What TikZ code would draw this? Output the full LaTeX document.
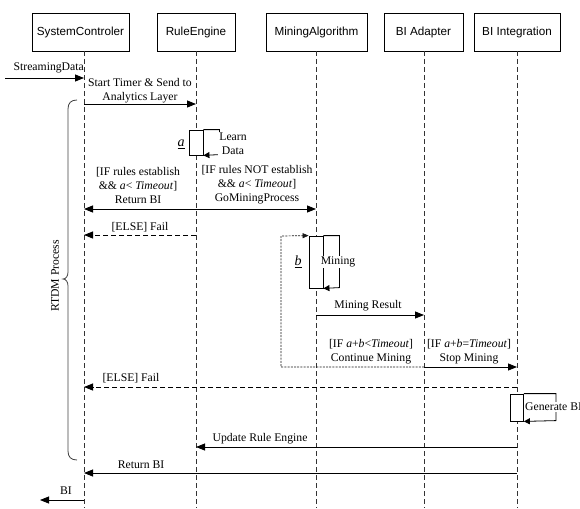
\documentclass[tikz,border=0pt]{standalone}
\usepackage{fontspec}
\setmainfont{Liberation Serif}
\setsansfont{Liberation Sans}
\usetikzlibrary{arrows.meta}
\begin{document}
\begin{tikzpicture}[x=1pt,y=-1pt,
  every node/.style={inner sep=0pt, font=\fontsize{11.7}{14}\selectfont},
  hdr/.style={draw, line width=0.8pt, minimum height=38pt, font=\sffamily\fontsize{11.7}{14}\selectfont},
  life/.style={dash pattern=on 5pt off 3pt, line width=0.8pt, draw=black!80},
  msg/.style={line width=0.8pt, -{Triangle[length=9pt,width=7pt]}},
  dmsg/.style={msg, dash pattern=on 5pt off 3pt},
  lbl/.style={align=center},
  act/.style={draw, fill=white, line width=0.8pt},
  selfarr/.style={line width=0.8pt, -{Triangle[length=6pt,width=6pt]}},
  loopd/.style={line width=0.7pt, dash pattern=on 2pt off 1.2pt, draw=black!90, -{Triangle[length=6pt,width=5pt]}},
  tag/.style={font=\fontsize{14}{16}\selectfont},
  wlbl/.style={fill=white, inner sep=1pt, align=center}
]
\useasboundingbox (0,0) rectangle (580,508);

% headers
\node[hdr, minimum width=97pt] (sc) at (80.5,32) {SystemControler};
\node[hdr, minimum width=78pt] (re) at (196,32) {RuleEngine};
\node[hdr, minimum width=101pt] (ma) at (316.5,32) {MiningAlgorithm};
\node[hdr, minimum width=79pt] (ba) at (423.5,32) {BI Adapter};
\node[hdr, minimum width=86pt] (bi) at (517,32) {BI Integration};

% lifelines
\coordinate (scT) at (84,51);   \coordinate (scB) at (84,508);
\coordinate (reT) at (196,51);  \coordinate (reB) at (196,508);
\coordinate (maT) at (316,51);  \coordinate (maB) at (316,508);
\coordinate (baT) at (424,51);  \coordinate (baB) at (424,508);
\coordinate (biT) at (517,51);  \coordinate (biB) at (517,508);
\draw[life] (scT) -- (scB);
\draw[life] (reT) -- (reB);
\draw[life] (maT) -- (maB);
\draw[life] (baT) -- (baB);
\draw[life] (biT) -- (biB);

% brace
\draw[line width=0.8pt, draw=black!75] (77,100) .. controls (71,100) and (68,103) .. (68,109) -- (68,272)
  .. controls (68,276) and (66,279) .. (63,279) .. controls (66,279) and (68,282) .. (68,286)
  -- (68,451) .. controls (68,457) and (71,460) .. (77,460);
\node[rotate=90] (rtdm) at (55,276) {RTDM Process};

% streaming data
\coordinate (sd0) at (5,78); \coordinate (sd1) at (84,78);
\draw[msg] (sd0) -- (sd1);
\node[anchor=base east] (sdl) at (84,71) {StreamingData};

% start timer
\coordinate (st0) at (84,104); \coordinate (st1) at (196,104);
\draw[msg] (st0) -- (st1);
\node[lbl] (stl) at (140,90.5) {Start Timer \& Send to\\Analytics Layer};

% activation a
\node[act, minimum width=14pt, minimum height=25pt] (actA) at (196,142.5) {};
\draw[selfarr] (actA.north east) -- ++(16,0) -- ++(0,25) -- (actA.south east);
\node[wlbl] (ldl) at (233,144) {Learn\\Data};
\node[tag] (ta) at (181,144) {\underline{\textit{a}}};

% return / go mining
\coordinate (r0) at (196,209); \coordinate (r1) at (84,209); \coordinate (r2) at (316,209);
\draw[msg] (r0) -- (r1);
\draw[msg] (r0) -- (r2);
\node[lbl] (rl1) at (138,185) {[IF rules establish\\\&\& \textit{a}< \textit{Timeout}]\\Return BI};
\node[lbl] (rl2) at (257,185) {[IF rules NOT establish\\\&\& \textit{a}< \textit{Timeout}]\\GoMiningProcess};

% else fail 1
\coordinate (f0) at (196,235); \coordinate (f1) at (84,235);
\draw[dmsg] (f0) -- (f1);
\node (fl1) at (140,227) {[ELSE] Fail};

% activation b
\node[act, minimum width=14pt, minimum height=52pt] (actB) at (316,262) {};
\draw[selfarr] (actB.north east) -- ++(16,0) -- ++(0,52) -- (actB.south east);
\node[wlbl] (mnl) at (338,262) {Mining};
\node[tag] (tb) at (298,262) {\underline{\textit{b}}};

% continue mining loop
\coordinate (cm0) at (424,367); \coordinate (cm1) at (281,367); \coordinate (cm2) at (281,236);
\draw[loopd] (cm0) -- (cm1) -- (cm2) -- (actB.north west);

% mining result
\coordinate (mr0) at (316,315); \coordinate (mr1) at (424,315);
\draw[msg] (mr0) -- (mr1);
\node (mrl) at (368,306) {Mining Result};

% stop mining
\coordinate (sm1) at (517,367);
\draw[msg] (cm0) -- (sm1);
\node[lbl] (cml) at (371,352) {[IF \textit{a}+\textit{b}<\textit{Timeout}]\\Continue Mining};
\node[lbl] (sml) at (469,352) {[IF \textit{a}+\textit{b}=\textit{Timeout}]\\Stop Mining};

% else fail 2
\coordinate (g0) at (517,387); \coordinate (g1) at (84,387);
\draw[dmsg] (g0) -- (g1);
\node (fl2) at (131,378) {[ELSE] Fail};

% generate BI
\node[act, minimum width=13pt, minimum height=27pt] (actG) at (517,407.5) {};
\draw[selfarr] (actG.north east) -- ++(32,0) -- ++(0,27) -- (actG.south east);
\node[wlbl, anchor=west] (gbl) at (524,407) {Generate BI};

% update rule engine
\coordinate (u0) at (517,447); \coordinate (u1) at (196,447);
\draw[msg] (u0) -- (u1);
\node (ul) at (260,439) {Update Rule Engine};

% return BI
\coordinate (rb0) at (517,473); \coordinate (rb1) at (84,473);
\draw[msg] (rb0) -- (rb1);
\node (rbl) at (141,465) {Return BI};

% BI out
\coordinate (bo0) at (84,500); \coordinate (bo1) at (40,500);
\draw[msg] (bo0) -- (bo1);
\node (bol) at (66,491) {BI};
\end{tikzpicture}
\end{document}
